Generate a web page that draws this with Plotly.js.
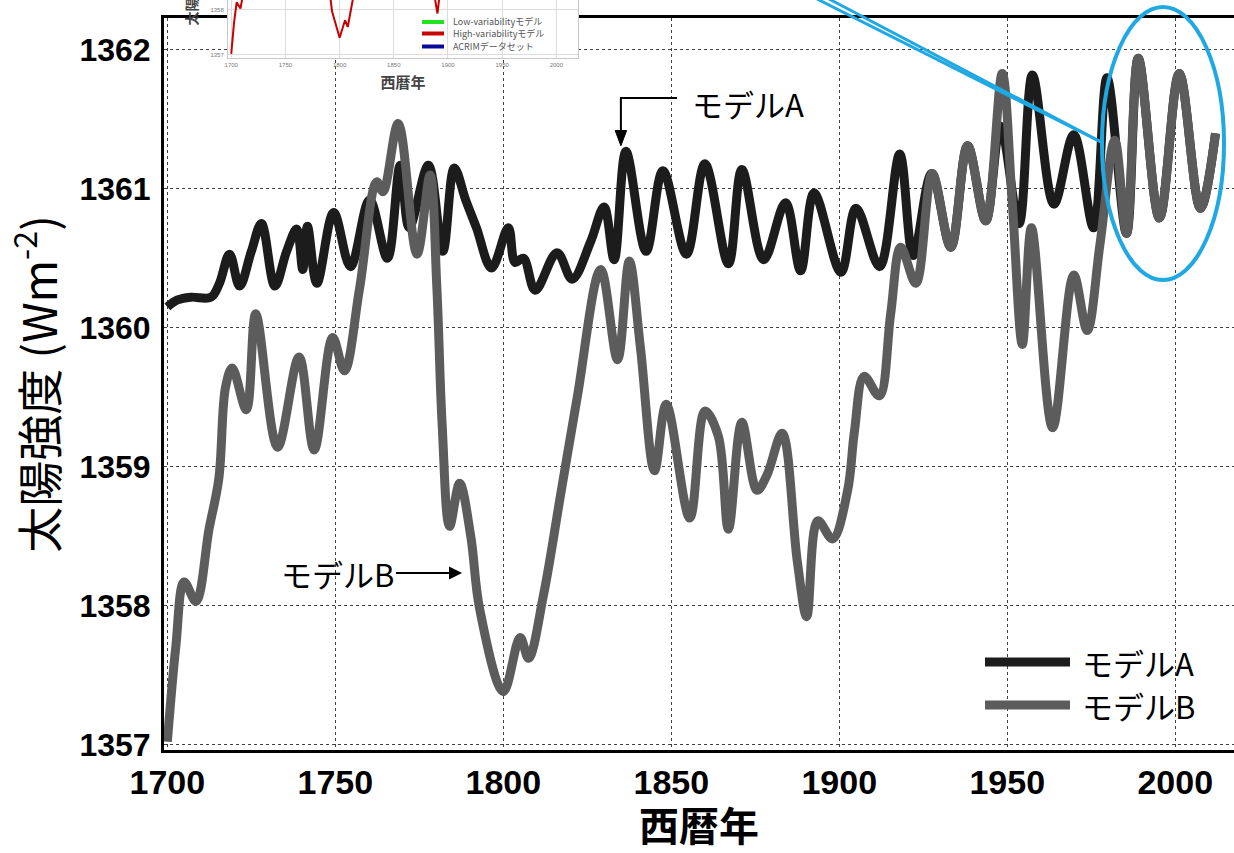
<!DOCTYPE html>
<html>
<head>
<meta charset="utf-8">
<script src="https://cdn.plot.ly/plotly-3.0.1.min.js"></script>
<style>html,body{margin:0;padding:0;background:#fff;}#chart{width:1234px;height:853px;}</style>
</head>
<body>
<div id="chart"></div>
<script>
// ---- data ----
const yearsA = [1700,1703,1707,1713,1715.5,1718.5,1721.5,1725,1728,1732,1735.5,1738.5,1740.3,1741.7,1744.5,1749.5,1754.5,1760.2,1765.5,1769.3,1772,1777.7,1782,1785.4,1788.8,1792,1796.5,1801.5,1803.5,1806,1809.5,1816,1820.5,1826,1830,1833,1836.5,1842.5,1847.5,1854.5,1860,1867,1871,1877.5,1884,1888.5,1892.5,1900.5,1905,1912,1918,1922,1927.5,1933.2,1938.2,1943.6,1948,1953.5,1957.5,1963.9,1969.8,1975.7,1979.7,1985.5,1989,1995.3,2001.2,2007.5,2012];
const valuesA = [1360.15,1360.20,1360.22,1360.22,1360.32,1360.53,1360.30,1360.55,1360.75,1360.30,1360.55,1360.71,1360.42,1360.73,1360.32,1360.83,1360.44,1360.92,1360.50,1361.17,1360.72,1361.17,1360.55,1361.15,1360.92,1360.72,1360.43,1360.72,1360.47,1360.50,1360.27,1360.54,1360.35,1360.62,1360.87,1360.49,1361.27,1360.55,1361.13,1360.53,1361.18,1360.46,1361.14,1360.49,1360.90,1360.41,1360.97,1360.40,1360.86,1360.44,1361.25,1360.52,1361.11,1360.58,1361.31,1360.77,1361.45,1360.75,1361.82,1360.89,1361.39,1360.72,1361.80,1360.68,1361.94,1360.79,1361.83,1360.86,1361.40];

const yearsB = [1700,1702.5,1705,1708.5,1712.4,1715.3,1717.3,1719.3,1723.5,1726.3,1732.8,1739.2,1743.7,1749.2,1752.7,1757.2,1762.3,1764.2,1768.7,1774.3,1778.2,1780.2,1781.8,1784,1787,1790.3,1793,1800,1805,1807.5,1812,1817,1822,1829,1834,1837.5,1840.8,1845,1848.5,1855.5,1860,1864,1867,1871,1875.5,1878.5,1883,1887.5,1890.3,1893.6,1898,1902.5,1904.5,1907.4,1911.9,1915.3,1918.3,1922.8,1927.7,1933.2,1938.2,1943.6,1948.5,1951.5,1954.5,1957.2,1963.5,1969.8,1973.8,1977.6,1982,1985.5,1989,1995.3,2001.2,2007.5,2012];
const valuesB = [1357.02,1357.70,1358.17,1358.03,1358.55,1358.91,1359.57,1359.71,1359.41,1360.10,1359.14,1359.79,1359.12,1359.93,1359.69,1360.28,1361.05,1360.98,1361.47,1360.53,1361.10,1360.30,1359.30,1358.57,1358.88,1358.50,1357.97,1357.38,1357.77,1357.62,1358.08,1358.79,1359.50,1360.42,1359.77,1360.48,1359.86,1358.97,1359.45,1358.63,1359.40,1359.22,1358.55,1359.32,1358.83,1358.94,1359.24,1358.32,1357.92,1358.61,1358.48,1358.83,1359.25,1359.65,1359.51,1360.10,1360.58,1360.32,1361.11,1360.58,1361.31,1360.77,1361.83,1360.90,1359.88,1360.72,1359.28,1360.38,1359.98,1360.60,1361.35,1360.68,1361.94,1360.79,1361.83,1360.86,1361.40];

const seriesNames = ['モデルA','モデルB'];
const xTicks = [1700,1750,1800,1850,1900,1950,2000];
const yTicks = [1357,1358,1359,1360,1361,1362];
const insetYTicks = [1357,1358];
const insetLegend = ['Low-variabilityモデル','High-variabilityモデル','ACRIMデータセット'];

// ---- styles ----
const colA = '#1c1c1c', colB = '#5c5c5c', blue = '#1fa8e2';
const cjk = '"Noto Sans CJK JP", "Noto Sans", sans-serif';

const traces = [
  {x: yearsA, y: valuesA, name: seriesNames[0], mode: 'lines', xaxis: 'x', yaxis: 'y',
   line: {color: colA, width: 9, shape: 'spline', smoothing: 1}, showlegend: false, hoverinfo: 'x+y'},
  {x: yearsB, y: valuesB, name: seriesNames[1], mode: 'lines', xaxis: 'x', yaxis: 'y',
   line: {color: colB, width: 9, shape: 'spline', smoothing: 1}, showlegend: false, hoverinfo: 'x+y'},
  {x: yearsB, y: valuesB, name: insetLegend[1], mode: 'lines', xaxis: 'x3', yaxis: 'y3',
   line: {color: '#c80000', width: 2}, showlegend: false, hoverinfo: 'skip'}
];

const px = p => (p - 164) / 1070;   // paper x from pixel
const py = p => (750 - p) / 750;     // paper y from pixel

const shapes = [
  // elbow pointer to モデルA
  {type: 'path', xref: 'x', yref: 'y', path: 'M 1851.7 1361.654 L 1835.0 1361.654 L 1835.0 1361.40',
   line: {color: '#000', width: 2}, layer: 'above'},
  {type: 'path', xref: 'x', yref: 'y', path: 'M 1833.3 1361.42 L 1836.7 1361.42 L 1835.0 1361.31 Z',
   fillcolor: '#000', line: {color: '#000', width: 1}, layer: 'above'},
  // manual legend samples
  {type: 'line', xref: 'paper', yref: 'paper', x0: px(985), x1: px(1070), y0: py(662), y1: py(662),
   line: {color: colA, width: 9}, layer: 'above'},
  {type: 'line', xref: 'paper', yref: 'paper', x0: px(985), x1: px(1070), y0: py(705), y1: py(705),
   line: {color: colB, width: 9}, layer: 'above'},
  // inset legend samples
  {type: 'line', xref: 'paper', yref: 'paper', x0: px(422), x1: px(444), y0: py(22), y1: py(22),
   line: {color: '#22e022', width: 4}, layer: 'above'},
  {type: 'line', xref: 'paper', yref: 'paper', x0: px(422), x1: px(444), y0: py(33.5), y1: py(33.5),
   line: {color: '#c80000', width: 4}, layer: 'above'},
  {type: 'line', xref: 'paper', yref: 'paper', x0: px(422), x1: px(444), y0: py(46.5), y1: py(46.5),
   line: {color: '#0a0a9a', width: 4}, layer: 'above'},
  // blue highlight ellipse and pointer lines
  {type: 'circle', xref: 'paper', yref: 'paper', x0: px(1102), x1: px(1224), y0: py(280), y1: py(7),
   line: {color: blue, width: 4}, layer: 'above'},
  {type: 'line', xref: 'paper', yref: 'paper', x0: px(817), y0: py(-1), x1: px(1103), y1: py(143),
   line: {color: blue, width: 3}, layer: 'above'},
  {type: 'line', xref: 'paper', yref: 'paper', x0: px(829), y0: py(-1), x1: px(1103), y1: py(143),
   line: {color: blue, width: 3}, layer: 'above'}
];

const annotations = [
  {text: 'モデルA', xref: 'x', yref: 'y', x: 1855.6, y: 1361.618, xanchor: 'left', yanchor: 'middle',
   showarrow: false, font: {family: cjk, size: 31, color: '#000'}},
  {text: 'モデルB', xref: 'x', yref: 'y', x: 1787.7, y: 1358.234, ax: -124, ay: 0,
   showarrow: true, arrowhead: 2, arrowsize: 1.3, arrowwidth: 2, arrowcolor: '#000', standoff: 0,
   font: {family: cjk, size: 31, color: '#000'}},
  // manual legend labels
  {text: seriesNames[0], xref: 'paper', yref: 'paper', x: px(1080), y: py(662), xanchor: 'left', yanchor: 'middle',
   showarrow: false, font: {family: cjk, size: 31, color: '#000'}},
  {text: seriesNames[1], xref: 'paper', yref: 'paper', x: px(1080), y: py(705), xanchor: 'left', yanchor: 'middle',
   showarrow: false, font: {family: cjk, size: 31, color: '#000'}},
  // inset legend labels
  {text: insetLegend[0], xref: 'paper', yref: 'paper', x: px(451), y: py(22), xanchor: 'left', yanchor: 'middle',
   showarrow: false, font: {family: cjk, size: 9, color: '#555'}},
  {text: insetLegend[1], xref: 'paper', yref: 'paper', x: px(451), y: py(33.5), xanchor: 'left', yanchor: 'middle',
   showarrow: false, font: {family: cjk, size: 9, color: '#555'}},
  {text: insetLegend[2], xref: 'paper', yref: 'paper', x: px(451), y: py(46.5), xanchor: 'left', yanchor: 'middle',
   showarrow: false, font: {family: cjk, size: 9, color: '#555'}},
  // inset y title (cut off at the top of the picture, as in the reference)
  {text: '太陽強度 (Wm<sup>-2</sup>)', xref: 'paper', yref: 'paper', x: px(191), y: py(28), textangle: -90,
   xanchor: 'center', yanchor: 'bottom', showarrow: false,
   font: {family: cjk, size: 14, color: '#444', weight: 700}}
];

const layout = {
  width: 1234, height: 853,
  margin: {l: 164, r: 0, t: 0, b: 103, pad: 0},
  paper_bgcolor: '#fff', plot_bgcolor: '#fff',
  showlegend: false,
  xaxis: {
    domain: [0, 1], range: [1699, 2017.5], tickvals: xTicks, ticktext: xTicks.map(String),
    showgrid: true, gridcolor: 'rgba(0,0,0,0.75)', griddash: 'dot', gridwidth: 1,
    zeroline: false, showline: true, linecolor: '#000', linewidth: 3, mirror: true, ticks: '',
    tickfont: {family: '"Liberation Sans", Arial, sans-serif', size: 34, color: '#000', weight: 700},
    ticklabelstandoff: 0, automargin: true,
    title: {text: '西暦年', font: {family: cjk, size: 40, color: '#000', weight: 700}, standoff: 12}
  },
  yaxis: {
    domain: [0, 0.976], range: [1356.96, 1362.23], tickvals: yTicks, ticktext: yTicks.map(String),
    showgrid: true, gridcolor: 'rgba(0,0,0,0.75)', griddash: 'dot', gridwidth: 1,
    zeroline: false, showline: true, linecolor: '#000', linewidth: 3, mirror: false, ticks: '',
    tickfont: {family: '"Liberation Sans", Arial, sans-serif', size: 32, color: '#000', weight: 700},
    ticklabelstandoff: 4,
    title: {text: '太陽強度 (Wm<sup>-2</sup>)', font: {family: cjk, size: 46, color: '#000'}, standoff: 8}
  },
  // white cover behind the pasted inset
  xaxis2: {domain: [px(175), px(588)], range: [0, 1], visible: false, anchor: 'y2', fixedrange: true},
  yaxis2: {domain: [py(97), 1], range: [0, 1], visible: false, anchor: 'x2', fixedrange: true},
  // the inset chart
  xaxis3: {
    domain: [px(228), px(578)], range: [1697, 2020], anchor: 'y3', tickvals: xTicks,
    showgrid: true, gridcolor: '#dcdcdc', gridwidth: 1, zeroline: false,
    showline: true, linecolor: '#c8c8c8', linewidth: 1, mirror: true, ticks: '',
    tickfont: {family: '"Liberation Sans", sans-serif', size: 6, color: '#777'}, ticklabelstandoff: 1,
    title: {text: '西暦年', font: {family: cjk, size: 15, color: '#444', weight: 700}, standoff: 10}
  },
  yaxis3: {
    domain: [py(58), 1], range: [1356.93, 1358.22], anchor: 'x3', tickvals: insetYTicks,
    showgrid: true, gridcolor: '#dcdcdc', gridwidth: 1, zeroline: false,
    showline: true, linecolor: '#c8c8c8', linewidth: 1, mirror: true, ticks: '',
    tickfont: {family: '"Liberation Sans", sans-serif', size: 6, color: '#777'}, ticklabelstandoff: 2
  },
  shapes: shapes,
  annotations: annotations
};

Plotly.newPlot('chart', traces, layout, {displayModeBar: false, staticPlot: true});
</script>
</body>
</html>
